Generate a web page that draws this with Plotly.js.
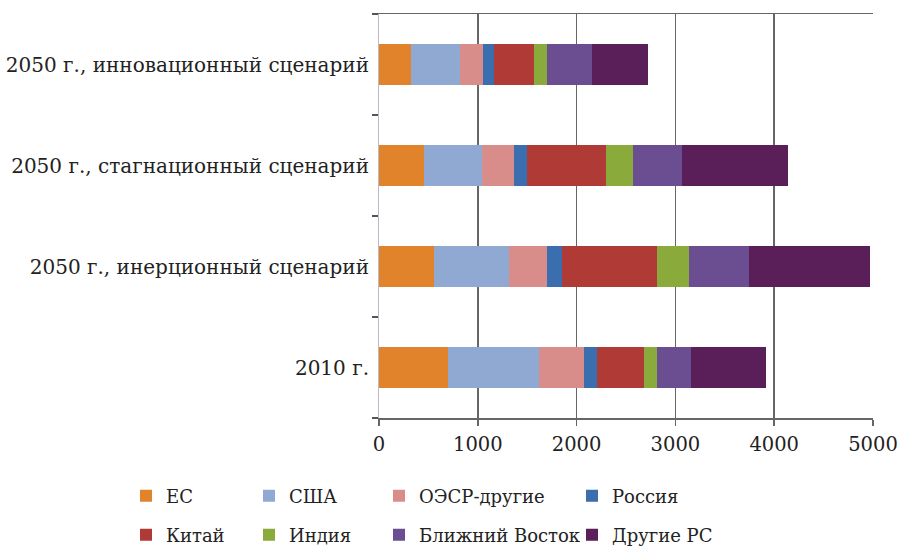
<!DOCTYPE html>
<html>
<head>
<meta charset="utf-8">
<script src="https://cdn.plot.ly/plotly-3.0.1.min.js"></script>
<style>html,body{margin:0;padding:0;background:#fff}#chart{width:900px;height:559px}</style>
</head>
<body>
<div id="chart"></div>
<script>
// Categories (bottom to top)
const categories = [
  '2010 г.',
  '2050 г., инерционный сценарий',
  '2050 г., стагнационный сценарий',
  '2050 г., инновационный сценарий'
];
// Series values (same order as categories)
const EU      = [701, 560, 459, 328];
const USA     = [922, 759, 580, 492];
const OECD    = [455, 384, 331, 230];
const Russia  = [132, 153, 131, 114];
const China   = [472, 961, 797, 408];
const India   = [135, 321, 270, 131];
const MidEast = [341, 610, 496, 450];
const OtherDC = [756, 1222, 1079, 573];

const seriesNames = ['ЕС', 'США', 'ОЭСР-другие', 'Россия', 'Китай', 'Индия', 'Ближний Восток', 'Другие РС'];
const seriesData = [EU, USA, OECD, Russia, China, India, MidEast, OtherDC];
const seriesColors = ['#E0832A', '#8FA9D3', '#D98D8B', '#3A6EAE', '#B03A36', '#8AAA3C', '#6B4E92', '#5A1E58'];
const xTicks = [0, 1000, 2000, 3000, 4000, 5000];

const legendIds = ['legend', 'legend3', 'legend5', 'legend7', 'legend2', 'legend4', 'legend6', 'legend8'];

const traces = seriesData.map((vals, i) => ({
  type: 'bar',
  orientation: 'h',
  name: seriesNames[i],
  y: categories,
  x: vals,
  marker: {color: seriesColors[i], line: {width: 0}},
  legend: legendIds[i],
  hoverinfo: 'x+name'
}));

const FAM = 'DejaVu Serif';
const font = {family: FAM, size: 19.5, color: '#222'};
const fontY = {family: FAM, size: 20, color: '#222'};
const fontL = {family: FAM, size: 18, color: '#222'};

// legend positions (paper coords): columns x, rows y
const W = 494, H = 404, L = 379, T = 14;
const colPx = [126, 249, 379, 572];
const rowPx = [496, 535];
function lg(col, row) {
  return {
    x: (colPx[col] - L) / W,
    y: (T + H - rowPx[row]) / H,
    xanchor: 'left', yanchor: 'middle',
    orientation: 'v',
    bgcolor: 'rgba(0,0,0,0)',
    font: fontL,
    itemclick: false
  };
}

const layout = {
  width: 900, height: 559,
  margin: {l: L, r: 900 - L - W, t: T, b: 559 - T - H, autoexpand: false},
  paper_bgcolor: '#fff', plot_bgcolor: '#fff',
  font: font,
  barmode: 'stack',
  bargap: 0.6,
  showlegend: true,
  legend: lg(0, 0),
  legend3: lg(1, 0),
  legend5: lg(2, 0),
  legend7: lg(3, 0),
  legend2: lg(0, 1),
  legend4: lg(1, 1),
  legend6: lg(2, 1),
  legend8: lg(3, 1),
  xaxis: {
    range: [0, 5000],
    tickvals: xTicks,
    ticktext: xTicks.map(String),
    showgrid: true, gridcolor: '#666', gridwidth: 1.5,
    showline: true, linecolor: '#666', linewidth: 1.5, mirror: true,
    ticks: 'outside', ticklen: 6, tickcolor: '#666', tickwidth: 1.5,
    ticklabelstandoff: 2,
    zeroline: false,
    tickfont: font
  },
  xaxis2: {
    overlaying: 'x', side: 'top', matches: 'x',
    range: [0, 5000],
    showgrid: false, showticklabels: false, ticks: '',
    showline: true, linecolor: '#666', linewidth: 1.5,
    zeroline: false
  },
  yaxis: {
    type: 'category',
    categoryorder: 'array', categoryarray: categories,
    showgrid: false,
    showline: true, linecolor: '#b8bcc8', linewidth: 1,
    ticks: 'outside', tickson: 'boundaries', ticklen: 6, tickcolor: '#555', tickwidth: 1.5,
    ticklabelstandoff: 5,
    tickfont: fontY
  }
};

Plotly.newPlot('chart', traces, layout, {displayModeBar: false, staticPlot: true});
</script>
</body>
</html>
